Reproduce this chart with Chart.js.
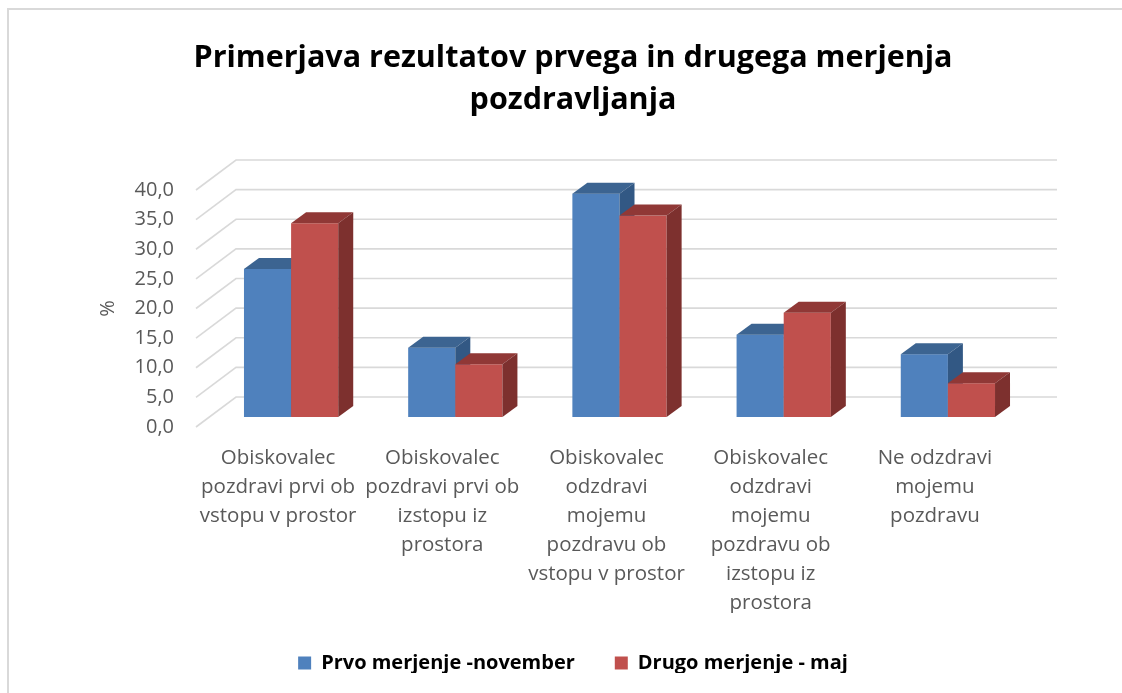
<!DOCTYPE html>
<html>
<head>
<meta charset="utf-8">
<script src="https://cdn.jsdelivr.net/npm/chart.js@4"></script>
<style>
  html, body { margin: 0; padding: 0; background: #fff; overflow: hidden; }
</style>
</head>
<body>
<canvas id="meritveChart" width="1122" height="693"></canvas>
<script>
// podatki
const categories = [
  ['Obiskovalec', 'pozdravi prvi ob', 'vstopu v prostor'],
  ['Obiskovalec', 'pozdravi prvi ob', 'izstopu iz', 'prostora'],
  ['Obiskovalec', 'odzdravi', 'mojemu', 'pozdravu ob', 'vstopu v prostor'],
  ['Obiskovalec', 'odzdravi', 'mojemu', 'pozdravu ob', 'izstopu iz', 'prostora'],
  ['Ne odzdravi', 'mojemu', 'pozdravu']
];
const prvoMerjenje = [25.0, 11.7, 37.7, 13.9, 10.6];
const drugoMerjenje = [32.7, 8.9, 34.0, 17.6, 5.7];
const seriesNames = ['Prvo merjenje -november', 'Drugo merjenje - maj'];
const yTicks = [0, 5, 10, 15, 20, 25, 30, 35, 40];

const FONT = '"Open Sans", Lato, sans-serif';
const GREY = '#595959';
const GRID = '#d9d9d9';

// 3D navidezna globina
const WALL_DX = 40, WALL_DY = 30;
const FRONT_DX = 13, FRONT_DY = 10;
const BAR_DX = 15, BAR_DY = 11;

const shades = [
  { front: '#4f81bd', top: '#3c6491', side: '#325884' },
  { front: '#c0504d', top: '#903836', side: '#7d302e' }
];

const frame = {
  id: 'frame',
  beforeDraw(chart) {
    const ctx = chart.ctx;
    ctx.save();
    ctx.fillStyle = '#fff';
    ctx.fillRect(0, 0, chart.width, chart.height);
    ctx.strokeStyle = GRID;
    ctx.lineWidth = 2;
    ctx.beginPath();
    ctx.moveTo(8, chart.height + 5);
    ctx.lineTo(8, 9);
    ctx.lineTo(chart.width + 5, 9);
    ctx.stroke();
    ctx.restore();
  }
};

function drawBox(ctx, x0, x1, yTop, yBase, c) {
  ctx.fillStyle = c.front;
  ctx.fillRect(x0, yTop, x1 - x0, yBase - yTop);
  ctx.fillStyle = c.top;
  ctx.beginPath();
  ctx.moveTo(x0, yTop);
  ctx.lineTo(x0 + BAR_DX, yTop - BAR_DY);
  ctx.lineTo(x1 + BAR_DX, yTop - BAR_DY);
  ctx.lineTo(x1, yTop);
  ctx.closePath();
  ctx.fill();
  ctx.fillStyle = c.side;
  ctx.beginPath();
  ctx.moveTo(x1, yTop);
  ctx.lineTo(x1 + BAR_DX, yTop - BAR_DY);
  ctx.lineTo(x1 + BAR_DX, yBase - BAR_DY);
  ctx.lineTo(x1, yBase);
  ctx.closePath();
  ctx.fill();
}

const bars3d = {
  id: 'bars3d',
  beforeDatasetsDraw(chart) {
    const ctx = chart.ctx;
    const yScale = chart.scales.y;
    const { left, right } = chart.chartArea;
    ctx.save();
    // zadnja stena in leva stena
    ctx.strokeStyle = GRID;
    ctx.lineWidth = 1.6;
    yTicks.forEach(v => {
      const y = yScale.getPixelForValue(v);
      ctx.beginPath();
      ctx.moveTo(left, y);
      ctx.lineTo(left + WALL_DX, y - WALL_DY);
      ctx.lineTo(right + WALL_DX, y - WALL_DY);
      ctx.stroke();
    });
    // stolpci
    const n = chart.data.labels.length;
    for (let j = 0; j < n; j++) {
      chart.data.datasets.forEach((ds, i) => {
        const el = chart.getDatasetMeta(i).data[j];
        const p = el.getProps(['x', 'y', 'base', 'width'], true);
        const x0 = p.x - p.width / 2 + FRONT_DX;
        const x1 = p.x + p.width / 2 + FRONT_DX;
        drawBox(ctx, x0, x1, p.y - FRONT_DY, p.base - FRONT_DY, shades[i]);
      });
    }
    ctx.restore();
    return false;
  }
};

new Chart(document.getElementById('meritveChart'), {
  type: 'bar',
  data: {
    labels: categories,
    datasets: [
      { label: seriesNames[0], data: prvoMerjenje, backgroundColor: shades[0].front },
      { label: seriesNames[1], data: drugoMerjenje, backgroundColor: shades[1].front }
    ]
  },
  options: {
    responsive: false,
    animation: false,
    categoryPercentage: 0.574,
    barPercentage: 1,
    layout: { padding: { left: 30, right: 6, top: 0, bottom: 20 } },
    plugins: {
      title: {
        display: true,
        text: ['Primerjava rezultatov prvega in drugega merjenja', 'pozdravljanja'],
        color: '#000',
        font: { family: FONT, size: 30.5, weight: 'bold', lineHeight: 42 / 30.5 },
        padding: { top: 37, bottom: 69 }
      },
      legend: {
        position: 'bottom',
        maxHeight: 60,
        labels: {
          color: '#000',
          boxWidth: 13,
          boxHeight: 13,
          padding: 40,
          font: { family: FONT, size: 20, weight: 'bold' }
        }
      },
      tooltip: { enabled: false }
    },
    scales: {
      x: {
        grid: { display: false, drawTicks: false },
        border: { display: false },
        ticks: {
          color: GREY,
          autoSkip: false,
          maxRotation: 0,
          minRotation: 0,
          padding: 16.5,
          font: { family: FONT, size: 20.5, lineHeight: 29 / 20.5 }
        },
        afterFit(scale) {
          scale.height = 186;
          scale.paddingRight = 105;
        }
      },
      y: {
        min: 0,
        max: 40,
        grid: { display: false, drawTicks: false },
        border: { display: false },
        ticks: {
          stepSize: 5,
          autoSkip: false,
          color: GREY,
          padding: 22,
          font: { family: FONT, size: 20 },
          callback: v => v.toFixed(1).replace('.', ',')
        },
        title: {
          display: true,
          text: '%',
          color: GREY,
          font: { family: FONT, size: 20 },
          padding: { top: 66, bottom: 0 }
        },
        afterFit(scale) {
          scale.width = 166;
        }
      }
    }
  },
  plugins: [frame, bars3d]
});
</script>
</body>
</html>
